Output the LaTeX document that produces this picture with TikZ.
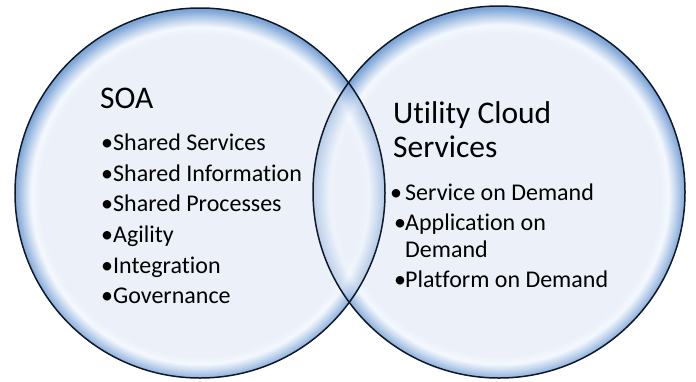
\documentclass[tikz,border=0pt]{standalone}
\usepackage{fontspec}
\setmainfont{Carlito}[Ligatures=NoCommon]
\definecolor{bubInner}{RGB}{235,240,249}
\definecolor{bubHi}{RGB}{244,248,254}
\definecolor{bubRingA}{RGB}{192,212,237}
\definecolor{bubRingB}{RGB}{125,165,215}
\definecolor{bubLine}{RGB}{15,25,40}
\pgfdeclareradialshading{bubble}{\pgfpoint{0bp}{-0.6bp}}{color(0bp)=(bubInner); color(21.6bp)=(bubInner); color(22.8bp)=(bubHi); color(23.8bp)=(bubRingA); color(25bp)=(bubRingB); color(50bp)=(bubRingB)}
\newcommand\bulbox[1]{\makebox[#1bp][l]{•}}
\begin{document}
\begin{tikzpicture}[x=1bp,y=-1bp,
  outline/.style={draw=bubLine, line width=1.5bp},
  ttl/.style={anchor=base west, inner sep=0pt, font=\fontsize{31.5bp}{34bp}\selectfont},
  txt/.style={anchor=base west, inner sep=0pt, font=\fontsize{24bp}{28bp}\selectfont}]
\useasboundingbox[fill=white] (0,0) rectangle (696,381);
\coordinate (cL) at (200,193);
\coordinate (cR) at (499,192);
% left bubble
\shade[shading=bubble] (cL) circle[radius=185bp];
% right bubble
\shade[shading=bubble] (cR) circle[radius=186bp];
% left bubble seen through the right one
\begin{scope}
  \clip (cR) circle[radius=186bp];
  \shade[shading=bubble, fill opacity=0.55] (cL) circle[radius=185bp];
\end{scope}
\draw[outline] (cL) circle[radius=185bp];
\draw[outline] (cR) circle[radius=186bp];
% left texts
\node[ttl] (soa) at (100,108) {SOA};
\node[txt] (l1) at (101,150) {\bulbox{12}Shared Services};
\node[txt] (l2) at (101,181) {\bulbox{12}Shared Information};
\node[txt] (l3) at (101,211) {\bulbox{12}Shared Processes};
\node[txt] (l4) at (101,242) {\bulbox{12}Agility};
\node[txt] (l5) at (101,273) {\bulbox{12}Integration};
\node[txt] (l6) at (101,303) {\bulbox{12}Governance};
% right texts
\node[ttl] (uc1) at (393,123) {Utility Cloud};
\node[ttl] (uc2) at (393,157) {Services};
\node[txt] (r1) at (390,200) {\bulbox{15}Service on Demand};
\node[txt] (r2) at (394,230) {\bulbox{11}Application on};
\node[txt] (r3) at (405,257) {Demand};
\node[txt] (r4) at (394,287) {\bulbox{11}Platform on Demand};
\end{tikzpicture}
\end{document}
